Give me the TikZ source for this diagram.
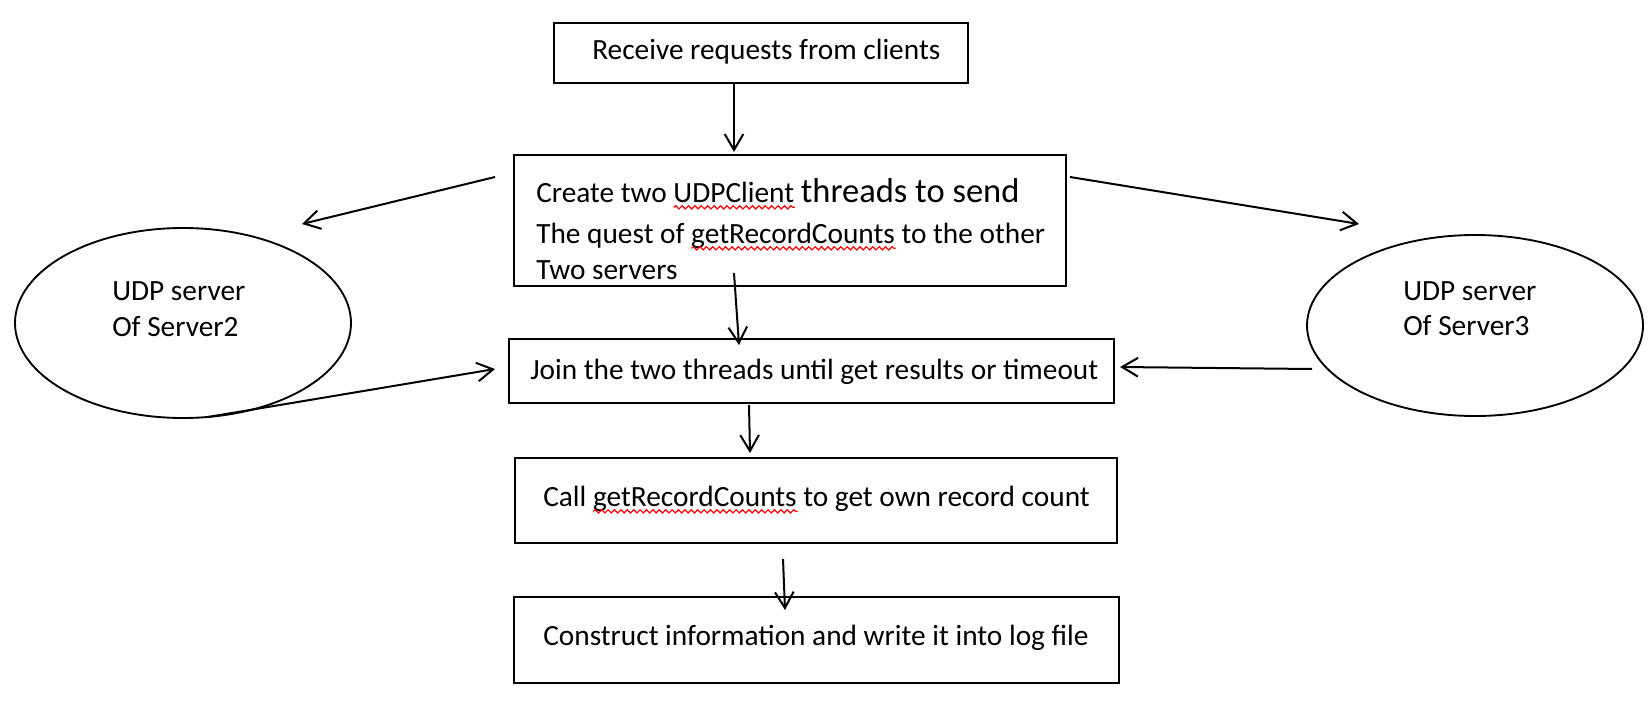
\documentclass[tikz,border=0pt]{standalone}
\usepackage{fontspec}
\setmainfont{Carlito}
\usetikzlibrary{arrows.meta,decorations.pathmorphing,shapes.geometric}
\begin{document}
\begin{tikzpicture}[x=0.75pt,y=-0.75pt,
  bx/.style 2 args={draw, line width=1.5pt, rectangle, inner sep=0pt, minimum width=#1*0.75pt, minimum height=#2*0.75pt},
  el/.style 2 args={draw, line width=1.4pt, ellipse, inner sep=0pt, minimum width=#1*0.75pt, minimum height=#2*0.75pt},
  txt/.style={inner sep=0pt, anchor=base west, font=\fontsize{22}{26}\selectfont},
  arr/.style={line width=1.5pt, -{Straight Barb[length=12pt,width=14pt]}},
  squig/.style={draw=red, line width=0.9pt, decorate, decoration={snake, amplitude=1.2pt, segment length=4.8pt}}
]
\useasboundingbox (0,0) rectangle (1652,703);
\fill[white] (0,0) rectangle (1652,703);

% boxes and ellipses
\node[bx={414}{60}] (b1) at (761,53) {};
\node[bx={552}{131}] (b2) at (790,220.5) {};
\node[bx={605}{64}] (b3) at (811.5,371) {};
\node[bx={602}{85}] (b4) at (816,500.5) {};
\node[bx={605}{86}] (b5) at (816.5,640) {};
\node[el={336}{190}] (e1) at (183,323) {};
\node[el={336}{181}] (e2) at (1475,325.5) {};

% texts
\node[txt] (t1) at (592,59) {Receive requests from clients};
\node[txt] (t2a) at (536,202) {Create two UDPClient {\fontsize{25.9}{30}\selectfont threads to send}};
\node[txt] (t2b) at (536,243) {The quest of getRecordCounts to the other};
\node[txt] (t2c) at (536,279) {Two servers};
\node[txt] (t3) at (530,379) {Join the two threads until get results or timeout};
\node[txt] (t4) at (543,506) {Call getRecordCounts to get own record count};
\node[txt] (t5) at (543,645) {Construct information and write it into log file};
\node[txt] (t6) at (112,300) {UDP server};
\node[txt] (t7) at (112,336) {Of Server2};
\node[txt] (t8) at (1403,300) {UDP server};
\node[txt] (t9) at (1403,335) {Of Server3};

% spell-check squiggles
\node[txt] (p1) at (t2a.base west) {\phantom{Create two }};
\node[txt] (w1) at (p1.base east) {\phantom{UDPClient}};
\node[txt] (p2) at (t2b.base west) {\phantom{The quest of }};
\node[txt] (w2) at (p2.base east) {\phantom{getRecordCounts}};
\node[txt] (p3) at (t4.base west) {\phantom{Call }};
\node[txt] (w3) at (p3.base east) {\phantom{getRecordCounts}};
\draw[squig] ([yshift=-4pt]w1.base west) -- ([yshift=-4pt]w1.base east);
\draw[squig] ([yshift=-4pt]w2.base west) -- ([yshift=-4pt]w2.base east);
\draw[squig] ([yshift=-4pt]w3.base west) -- ([yshift=-4pt]w3.base east);

% arrow end points
\coordinate (a1s) at (734,84);   \coordinate (a1e) at (734,152);
\coordinate (a2s) at (495,177);  \coordinate (a2e) at (302,224);
\coordinate (a3s) at (1070,177); \coordinate (a3e) at (1359,224);
\coordinate (a4s) at (734,273);  \coordinate (a4e) at (739,345);
\coordinate (a5s) at (749,405);  \coordinate (a5e) at (750,453);
\coordinate (a6s) at (783,559);  \coordinate (a6e) at (785,610);
\coordinate (a7s) at (208,417);  \coordinate (a7e) at (495,369);
\coordinate (a8s) at (1312,369); \coordinate (a8e) at (1120,367);

\draw[arr] (a1s) -- (a1e);
\draw[arr] (a2s) -- (a2e);
\draw[arr] (a3s) -- (a3e);
\draw[arr] (a4s) -- (a4e);
\draw[arr] (a5s) -- (a5e);
\draw[arr] (a6s) -- (a6e);
\draw[arr] (a7s) -- (a7e);
\draw[arr] (a8s) -- (a8e);
\end{tikzpicture}
\end{document}
